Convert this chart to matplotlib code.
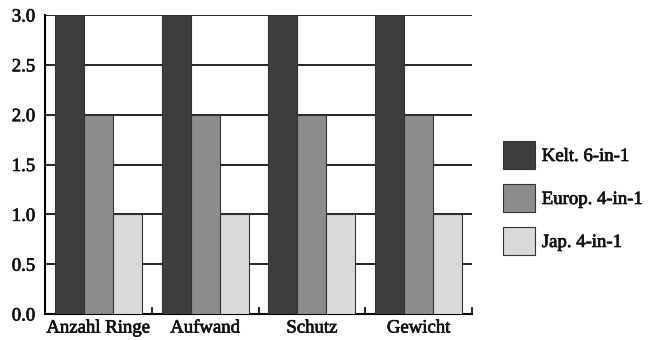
import matplotlib
matplotlib.use("Agg")
import matplotlib.pyplot as plt
import matplotlib.patheffects as pe
import numpy as np
from matplotlib.patches import Patch

categories = ["Anzahl Ringe", "Aufwand", "Schutz", "Gewicht"]
series_names = ["Kelt. 6-in-1", "Europ. 4-in-1", "Jap. 4-in-1"]
kelt = [3.0, 3.0, 3.0, 3.0]
europ = [2.0, 2.0, 2.0, 2.0]
jap = [1.0, 1.0, 1.0, 1.0]
y_ticks = [0.0, 0.5, 1.0, 1.5, 2.0, 2.5, 3.0]

colors = ["#3d3d3d", "#8c8c8c", "#d9d9d9"]
edge = "#333333"

plt.rcParams['font.family'] = ['Liberation Serif', 'DejaVu Serif']
FS = 13.5
heavy = [pe.withStroke(linewidth=0.5, foreground='#111111')]

fig = plt.figure(figsize=(6.51, 3.40), dpi=100)
ax = fig.add_axes([45/651, 26/340, 427/651, 299/340])

x = np.arange(len(categories))
w = 0.272
for i, (vals, c, name) in enumerate(zip([kelt, europ, jap], colors, series_names)):
    ax.bar(x + (i - 1) * w, vals, width=w, color=c, edgecolor=edge,
           linewidth=0.8, zorder=3, label=name)

ax.set_xlim(-0.5, len(categories) - 0.5)
ax.set_ylim(0, 3.0)
ax.set_yticks(y_ticks)
ax.set_yticklabels([f"{v:.1f}" for v in y_ticks], fontsize=FS, color='#111111')
ax.tick_params(axis='y', length=0, pad=7)
for v in y_ticks[1:]:
    ax.axhline(v, color='black', linewidth=1.2, zorder=1)

ax.set_xticks(x)
ax.set_xticklabels(categories, fontsize=FS, color='#111111')
ax.tick_params(axis='x', length=0, pad=4)
ax.set_xticks(np.arange(len(categories)) + 0.5, minor=True)
ax.tick_params(axis='x', which='minor', direction='in', length=5, width=1.2, color='black')

for lab in ax.get_xticklabels() + ax.get_yticklabels():
    lab.set_path_effects(heavy)

for s in ['top', 'right']:
    ax.spines[s].set_visible(False)
for s in ['left', 'bottom']:
    ax.spines[s].set_linewidth(1.5)
    ax.spines[s].set_color('black')

handles = [Patch(facecolor=c, edgecolor=edge, linewidth=0.8) for c in colors]
leg = fig.legend(handles, series_names, loc='upper left',
                 bbox_to_anchor=(503/651, 1 - 141/340), frameon=False,
                 fontsize=FS, handlelength=1.7, handleheight=1.92,
                 labelspacing=0.8, handletextpad=0.37, borderpad=0, borderaxespad=0)
for t in leg.get_texts():
    t.set_color('#111111')
    t.set_path_effects(heavy)

fig.savefig("out.png", dpi=100)
